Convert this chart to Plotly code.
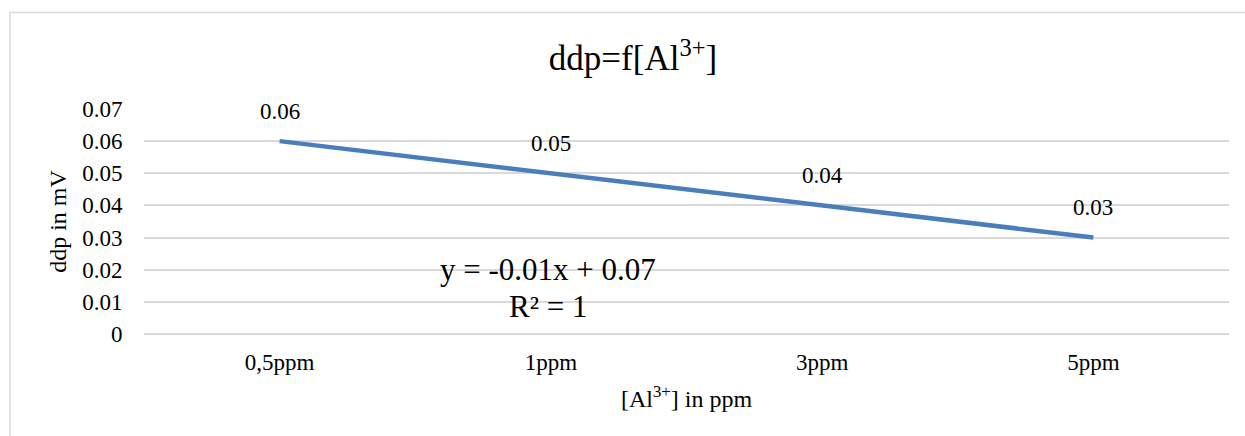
import plotly.graph_objects as go

categories = ["0,5ppm", "1ppm", "3ppm", "5ppm"]
ddp_values = [0.06, 0.05, 0.04, 0.03]
value_labels = ["0.06", "0.05", "0.04", "0.03"]
y_ticks = [0, 0.01, 0.02, 0.03, 0.04, 0.05, 0.06, 0.07]
y_tick_labels = ["0", "0.01", "0.02", "0.03", "0.04", "0.05", "0.06", "0.07"]
trend_equation = "y = -0.01x + 0.07"
trend_r2 = "R² = 1"

FONT = "Liberation Serif"
W, H = 1245, 436
L, R, T, B = 144, 16, 109, 102
pw, ph = W - L - R, H - T - B

def px_x(x):
    return (x - L) / pw

def px_y(y):
    return (H - B - y) / ph

fig = go.Figure()
fig.add_trace(go.Scatter(
    x=categories, y=ddp_values, mode="lines",
    line=dict(color="#4A7EBB", width=4.5),
    hoverinfo="skip", showlegend=False,
))

annotations = []
for c, v, t in zip(categories, ddp_values, value_labels):
    annotations.append(dict(x=c, y=v, xref="x", yref="y", text=t, showarrow=False,
                            yshift=30, font=dict(family=FONT, size=23, color="#000000")))

annotations.append(dict(x=px_x(548), y=px_y(269), xref="paper", yref="paper", text=trend_equation,
                        showarrow=False, xanchor="center", yanchor="middle",
                        font=dict(family=FONT, size=31, color="#000000")))
annotations.append(dict(x=px_x(548), y=px_y(306), xref="paper", yref="paper", text=trend_r2,
                        showarrow=False, xanchor="center", yanchor="middle",
                        font=dict(family=FONT, size=31, color="#000000")))

fig.update_layout(
    width=W, height=H,
    margin=dict(l=L, r=R, t=T, b=B),
    font=dict(family=FONT, size=23, color="#000000"),
    paper_bgcolor="#FFFFFF", plot_bgcolor="#FFFFFF",
    title=dict(text="ddp=f[Al<sup>3+</sup>]", x=633 / W, xanchor="center",
               y=1 - 58 / H, yanchor="middle", yref="container",
               font=dict(family=FONT, size=35, color="#000000")),
    annotations=annotations,
    shapes=[dict(type="rect", xref="paper", yref="paper",
                 x0=px_x(10), x1=px_x(1260), y0=px_y(450), y1=px_y(12.5),
                 line=dict(color="#D9D9D9", width=1.5), fillcolor="rgba(0,0,0,0)", layer="below")],
    xaxis=dict(type="category", range=[-0.5, 3.5], showgrid=False, zeroline=False, showline=False,
               ticks="outside", ticklen=7, tickcolor="rgba(0,0,0,0)",
               tickfont=dict(family=FONT, size=23, color="#000000"),
               title=dict(text="[Al<sup>3+</sup>] in ppm", standoff=16,
                          font=dict(family=FONT, size=24, color="#000000"))),
    yaxis=dict(range=[0, 0.07], tickvals=y_ticks, ticktext=y_tick_labels,
               showgrid=True, gridcolor="#D9D9D9", gridwidth=1.5,
               zeroline=True, zerolinecolor="#D9D9D9", zerolinewidth=1.5, showline=False,
               ticks="outside", ticklen=16, tickcolor="rgba(0,0,0,0)",
               tickfont=dict(family=FONT, size=23, color="#000000"),
               title=dict(text="ddp in mV", standoff=8,
                          font=dict(family=FONT, size=24, color="#000000"))),
)

fig.write_html("out.html")
